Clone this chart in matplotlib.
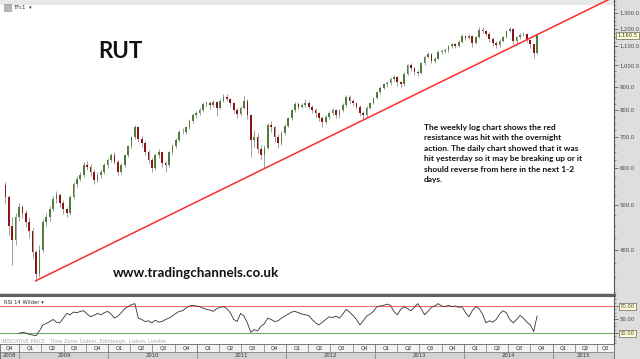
import numpy as np
import pandas as pd
import matplotlib
matplotlib.use('Agg')
import matplotlib.pyplot as plt
import matplotlib.dates as mdates
from matplotlib.lines import Line2D
from matplotlib.patches import Rectangle
from matplotlib.ticker import FixedLocator, FuncFormatter, NullFormatter

# === RUT, one candle per 2 weeks ===
last_date = '2014-10-28'
first_open = 552
closes = [520, 450, 420, 470, 495, 480, 460, 440, 395, 355,
          400, 460, 470, 490, 515, 525, 505, 490, 480, 520,
          555, 570, 580, 610, 605, 590, 565, 580, 590, 610,
          625, 640, 620, 590, 610, 640, 670, 700, 735, 695,
          680, 650, 625, 600, 640, 650, 615, 610, 650, 670,
          690, 720, 720, 735, 760, 780, 790, 800, 825, 830,
          820, 835, 810, 840, 855, 845, 830, 800, 785, 810,
          840, 780, 690, 700, 660, 640, 665, 745, 735, 700,
          680, 715, 740, 770, 800, 825, 815, 820, 830, 815,
          800, 790, 770, 755, 775, 790, 800, 780, 800, 820,
          855, 840, 830, 815, 790, 780, 810, 830, 850, 875,
          895, 910, 915, 935, 945, 920, 910, 960, 1000, 985,
          970, 965, 1010, 1045, 1060, 1020, 1035, 1070, 1075, 1080,
          1100, 1110, 1100, 1125, 1160, 1145, 1160, 1120, 1150, 1195,
          1185, 1170, 1140, 1120, 1105, 1130, 1150, 1185, 1200, 1130,
          1150, 1165, 1170, 1135, 1110, 1065, 1160.5]
highs = [560, 525, 470, 480, 505, 500, 488, 470, 447, 400,
         410, 466, 480, 498, 522, 535, 532, 512, 495, 526,
         560, 578, 590, 618, 622, 612, 598, 588, 598, 615,
         632, 648, 650, 625, 616, 645, 675, 706, 745, 742,
         705, 686, 658, 630, 648, 660, 655, 622, 655, 676,
         696, 726, 732, 742, 768, 788, 798, 808, 832, 840,
         838, 842, 840, 846, 866, 868, 852, 835, 808, 816,
         860, 848, 785, 725, 716, 672, 675, 752, 760, 742,
         710, 722, 748, 776, 806, 832, 836, 830, 846, 838,
         822, 808, 795, 778, 782, 798, 808, 805, 806, 828,
         864, 862, 846, 836, 820, 796, 816, 836, 856, 882,
         902, 918, 925, 942, 955, 950, 926, 966, 1008, 1010,
         992, 980, 1016, 1052, 1068, 1064, 1042, 1078, 1085, 1090,
         1108, 1120, 1118, 1132, 1168, 1166, 1170, 1165, 1156, 1212,
         1208, 1195, 1178, 1150, 1130, 1138, 1158, 1192, 1212, 1205,
         1158, 1172, 1182, 1176, 1142, 1115, 1165]
lows = [505, 430, 371, 410, 462, 468, 448, 425, 385, 343,
        350, 396, 450, 462, 485, 505, 496, 478, 470, 476,
        515, 548, 562, 575, 595, 578, 555, 560, 572, 582,
        602, 618, 612, 580, 584, 605, 635, 664, 695, 685,
        668, 640, 615, 590, 596, 632, 605, 590, 604, 644,
        662, 684, 710, 712, 728, 752, 772, 782, 795, 815,
        805, 812, 778, 805, 835, 838, 818, 790, 772, 778,
        805, 768, 635, 668, 648, 625, 601, 660, 720, 685,
        665, 672, 708, 735, 764, 795, 805, 808, 812, 805,
        790, 776, 760, 737, 748, 768, 780, 770, 772, 795,
        815, 830, 818, 805, 778, 765, 775, 804, 824, 845,
        868, 888, 900, 908, 925, 905, 895, 905, 955, 975,
        955, 950, 960, 1004, 1038, 1010, 1010, 1030, 1060, 1062,
        1070, 1090, 1088, 1095, 1120, 1135, 1138, 1095, 1110, 1145,
        1175, 1155, 1125, 1100, 1090, 1098, 1124, 1145, 1178, 1115,
        1108, 1142, 1158, 1125, 1090, 1040, 1060]

# RSI 14 Wilder (ends on the last candle)
rsi = [29.5, 31, 30, 28, 27, 26, 33, 42, 44, 47, 50, 46, 45, 52, 59, 57, 61, 60, 62, 63,
       58, 54, 56, 59, 57, 60, 62, 58, 52, 55, 60, 66, 69, 72, 73.5, 52, 50, 47, 48, 45,
       49, 46, 47, 50, 52, 55, 59, 62, 63, 67, 70, 71, 70, 69, 67, 65, 64, 62, 66, 68,
       69, 66, 60, 50, 47, 59, 55, 45, 31, 35, 33, 40, 44, 52, 50, 47, 48, 52, 55, 58,
       61, 62, 60, 58, 57, 56, 50, 45, 42, 46, 50, 54, 53, 55, 52, 58, 65, 61, 56, 50,
       42, 48, 55, 58, 62, 69, 70, 71, 72.8, 71, 62, 57, 65, 69, 66, 63, 68, 73.5, 66, 57,
       62, 68, 70, 73.5, 70, 69, 71, 69, 70, 68, 69, 60, 54, 63, 69, 66, 58, 45, 48, 46,
       50, 58, 63, 60, 50, 45, 50, 56, 52, 46, 42, 32, 55]

trend_dates = ['2009-03-08', '2014-10-28']
trend_prices = [343, 1165]

price_ticks = [400, 500, 600, 700, 800, 900, 1000, 1100, 1200, 1300]
rsi_ticks = [30, 50, 70]
rsi_tags = [30, 70]
last_price = 1160.5

note = ("The weekly log chart shows the red\n"
        "resistance was hit with the overnight\n"
        "action. The daily chart showed that it was\n"
        "hit yesterday so it may be breaking up or it\n"
        "should reverse from here in the next 1-2\n"
        "days.")

# === layout in pixels ===
W, H = 640, 359
def box(x0, y0, x1, y1):
    return [x0 / W, 1 - y1 / H, (x1 - x0) / W, (y1 - y0) / H]

fig = plt.figure(figsize=(6.4, 3.59), dpi=100)
fig.patch.set_facecolor('#dedede')

ax = fig.add_axes(box(0, 0, 614, 293))
axr = fig.add_axes(box(0, 296, 614, 344))
axt = fig.add_axes(box(0, 344, 614, 359))

xl = mdates.date2num(pd.Timestamp('2008-10-13'))
xr = mdates.date2num(pd.Timestamp('2015-09-09'))

# === candles ===
dates = pd.date_range(end=last_date, periods=len(closes), freq='14D')
x = mdates.date2num(dates)
c = np.array(closes, dtype=float)
o = np.array([first_open] + closes[:-1], dtype=float)
cols = np.where(c >= o, '#4e7d3c', '#8c1414')
ax.set_yscale('log')
ax.vlines(x, lows, highs, color='#a0a0a0', lw=0.7, zorder=2)
ax.bar(x, np.abs(c - o), bottom=np.minimum(o, c), width=7, color=cols, lw=0, zorder=3)

# red resistance line, extended to the right edge
td = mdates.date2num(pd.to_datetime(trend_dates))
lp = np.log(trend_prices)
slope = (lp[1] - lp[0]) / (td[1] - td[0])
ax.plot([td[0], xr], [trend_prices[0], np.exp(lp[0] + slope * (xr - td[0]))],
        color='#ff2b2b', lw=1.1, zorder=4)

ax.set_xlim(xl, xr)
ax.set_ylim(323, 1384)
ax.set_xticks([])
ax.yaxis.tick_right()
ax.yaxis.set_major_locator(FixedLocator(price_ticks))
ax.yaxis.set_major_formatter(FuncFormatter(lambda v, p: f'{v:,.1f}'))
ax.yaxis.set_minor_locator(FixedLocator(np.arange(325, 1400, 25)))
ax.yaxis.set_minor_formatter(NullFormatter())
ax.tick_params(axis='y', which='major', length=3, width=0.5, labelsize=3.8,
               colors='#444444', pad=1.2)
ax.tick_params(axis='y', which='minor', length=1.5, width=0.4, colors='#555555')
for s in ['top', 'left', 'bottom']:
    ax.spines[s].set_visible(False)
ax.spines['right'].set_color('#555555')
ax.spines['right'].set_linewidth(0.8)

ax.annotate(f'{last_price:,.1f}', xy=(1.0, last_price), xycoords=('axes fraction', 'data'),
            xytext=(2.2, 0), textcoords='offset points', fontsize=3.8, color='#333333',
            va='center', ha='left', annotation_clip=False, zorder=10,
            bbox=dict(boxstyle='square,pad=0.25', fc='#ffffd2', ec='#666666', lw=0.5))

# header strip (under the marks) + symbol
ax.add_patch(Rectangle((0, 1 - 5 / 293), 1, 5 / 293, transform=ax.transAxes,
                       color='#e9e9e9', lw=0, zorder=1))
fig.add_artist(Rectangle((4 / W, 1 - 11 / H), 7 / W, 7 / H, transform=fig.transFigure,
                         fc='#b8b8b8', ec='#888888', lw=0.4))
fig.text(14 / W, 1 - 7.5 / H, 'TFc1', fontsize=3.8, color='#333333', va='center')
fig.text(29 / W, 1 - 7.5 / H, '\u25be', fontsize=3.8, color='#333333', va='center')

ax.text(98 / 614, 1 - 52 / 293, 'RUT', transform=ax.transAxes, fontsize=16,
        family='Lato', fontweight='bold', va='center', ha='left', color='#111111')
ax.text(113 / 614, 1 - 273 / 293, 'www.tradingchannels.co.uk', transform=ax.transAxes,
        fontsize=9.6, family='Lato', fontweight='bold', va='center', ha='left',
        color='#111111')
ax.text(424 / 614, 1 - 124 / 293, note, transform=ax.transAxes, fontsize=6.0,
        family='Lato', fontweight='bold', va='top', ha='left', linespacing=1.58,
        color='#111111')

# separator between panels
fig.add_artist(Line2D([0, 614 / W], [1 - 294.5 / H] * 2, lw=2.2, color='#5e5e5e'))

# === RSI panel ===
rdates = x[-len(rsi):]
axr.plot(rdates, rsi, color='#333333', lw=0.6, zorder=3)
axr.axhline(70, color='#ff6f6f', lw=0.8)
axr.axhline(30, color='#6fae6f', lw=0.8)
axr.set_xlim(xl, xr)
axr.set_ylim(13.7, 84.8)
axr.set_xticks([])
axr.yaxis.tick_right()
axr.yaxis.set_major_locator(FixedLocator(rsi_ticks))
axr.yaxis.set_major_formatter(FuncFormatter(lambda v, p: f'{v:.2f}'))
axr.yaxis.set_minor_locator(FixedLocator(np.arange(15, 85, 5)))
axr.yaxis.set_minor_formatter(NullFormatter())
axr.tick_params(axis='y', which='major', length=3, width=0.5, labelsize=3.8,
                colors='#444444', pad=1.2)
axr.tick_params(axis='y', which='minor', length=1.5, width=0.4, colors='#555555')
for s in ['top', 'left', 'bottom']:
    axr.spines[s].set_visible(False)
axr.spines['right'].set_color('#555555')
axr.spines['right'].set_linewidth(0.8)
for t, v in zip(axr.yaxis.get_major_ticks(), rsi_ticks):
    if v in rsi_tags:
        t.label2.set_bbox(dict(boxstyle='square,pad=0.25', fc='#ffffd2', ec='#666666', lw=0.5))

axr.text(4 / 614, 1 - 7 / 48, 'RSI 14 Wilder \u25be', transform=axr.transAxes,
         fontsize=3.8, color='#333333', va='center')
axr.text(1 / 614, 1 - 45 / 48, 'INDICATIVE PRICE   Time Zone: Dublin, Edinburgh, Lisbon, London',
         transform=axr.transAxes, fontsize=3.6, color='#aaaaaa', va='center')

# === time axis: quarters over years ===
axt.set_xlim(xl, xr)
axt.set_ylim(0, 2)
axt.axhspan(0, 1, color='#d2d2d2', lw=0)
axt.axhspan(1, 2, color='#f3f3f3', lw=0)
qs = pd.date_range('2008-10-01', '2015-10-01', freq='QS')
for q0, q1 in zip(qs[:-1], qs[1:]):
    a, b = mdates.date2num(q0), mdates.date2num(q1)
    axt.vlines(a, 1, 2, color='#777777', lw=0.5)
    lo, hi = max(a, xl), min(b, xr)
    if hi > lo:
        axt.text((lo + hi) / 2, 1.5, f'Q{q0.quarter}', fontsize=3.8, color='#333333',
                 ha='center', va='center')
for yr in range(2008, 2016):
    a = mdates.date2num(pd.Timestamp(f'{yr}-01-01'))
    b = mdates.date2num(pd.Timestamp(f'{yr + 1}-01-01'))
    axt.vlines(a, 0, 2, color='#777777', lw=0.5)
    lo, hi = max(a, xl), min(b, xr)
    axt.text((lo + hi) / 2, 0.5, str(yr), fontsize=3.8, color='#333333',
             ha='center', va='center')
axt.axhline(1, color='#777777', lw=0.5)
axt.set_xticks([])
axt.set_yticks([])
for s in axt.spines.values():
    s.set_color('#666666')
    s.set_linewidth(0.6)

plt.savefig('out.png', dpi=100, facecolor=fig.get_facecolor())
